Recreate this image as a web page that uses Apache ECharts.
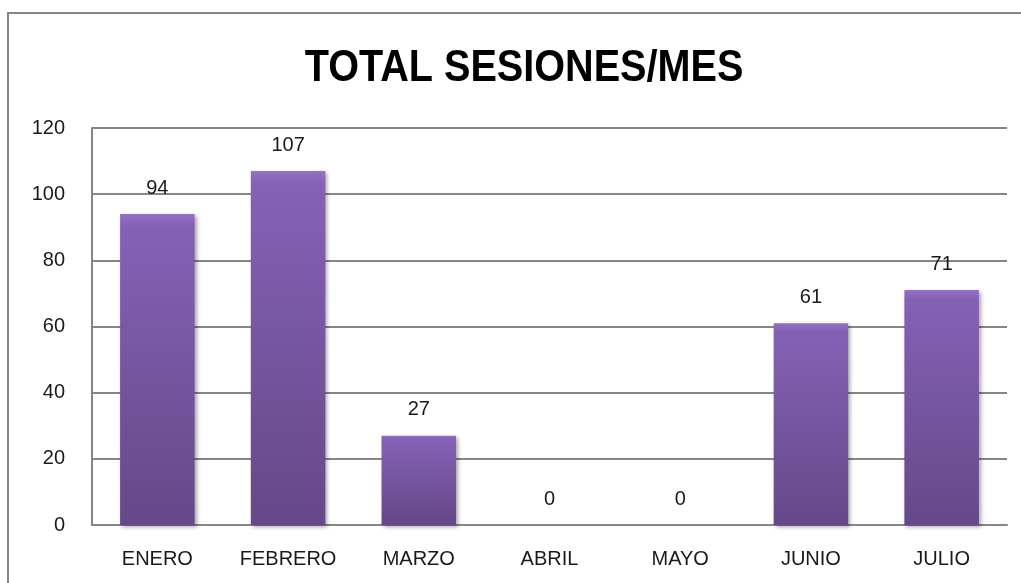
<!DOCTYPE html>
<html>
<head>
<meta charset="utf-8">
<title>TOTAL SESIONES/MES</title>
<script src="https://cdn.jsdelivr.net/npm/echarts@6/dist/echarts.min.js"></script>
<style>
  html, body { margin: 0; padding: 0; background: #fff; }
  #chart { width: 1021px; height: 583px; }
</style>
</head>
<body>
<div id="chart"></div>
<script>
var meses = ['ENERO', 'FEBRERO', 'MARZO', 'ABRIL', 'MAYO', 'JUNIO', 'JULIO'];
var sesiones = [94, 107, 27, 0, 0, 61, 71];

var fuente = '"Liberation Sans", sans-serif';

var myChart = echarts.init(document.getElementById('chart'));

var option = {
    animation: false,
    // titulo (un poco estrecho, como el original)
    graphic: [{
        type: 'rect',
        shape: { x: 8, y: 13, width: 1030, height: 600 },
        style: { fill: 'none', stroke: '#868686', lineWidth: 2 },
        silent: true
    }, {
        type: 'text',
        x: 524,
        y: 47,
        scaleX: 0.9,
        style: {
            text: 'TOTAL SESIONES/MES',
            textAlign: 'center',
            textVerticalAlign: 'top',
            fontFamily: fuente,
            fontSize: 44,
            fontWeight: 'bold',
            fill: '#000'
        },
        silent: true
    }],
    grid: {
        left: 92,
        right: 14,
        top: 128,
        bottom: 58,
        containLabel: false
    },
    xAxis: {
        type: 'category',
        data: meses,
        axisLine: { lineStyle: { color: '#868686', width: 2 } },
        axisTick: { show: false },
        axisLabel: {
            fontFamily: fuente,
            fontSize: 20,
            color: '#1a1a1a',
            margin: 24
        }
    },
    yAxis: {
        type: 'value',
        min: 0,
        max: 120,
        interval: 20,
        axisLine: { show: true, lineStyle: { color: '#868686', width: 2 } },
        axisTick: { show: false },
        splitLine: { lineStyle: { color: '#868686', width: 2 } },
        axisLabel: {
            fontFamily: fuente,
            fontSize: 20,
            color: '#1a1a1a',
            margin: 27
        }
    },
    series: [{
        name: 'Sesiones',
        type: 'bar',
        data: sesiones,
        barWidth: '57%',
        itemStyle: {
            color: new echarts.graphic.LinearGradient(0, 0, 0, 1, [
                { offset: 0, color: '#9470c6' },
                { offset: 0.04, color: '#8561b5' },
                { offset: 1, color: '#654888' }
            ]),
            shadowColor: 'rgba(0,0,0,0.35)',
            shadowBlur: 4,
            shadowOffsetX: 2,
            shadowOffsetY: 2
        },
        label: {
            show: true,
            position: 'top',
            distance: 16,
            fontFamily: fuente,
            fontSize: 20,
            color: '#1a1a1a'
        }
    }]
};

myChart.setOption(option);
</script>
</body>
</html>
